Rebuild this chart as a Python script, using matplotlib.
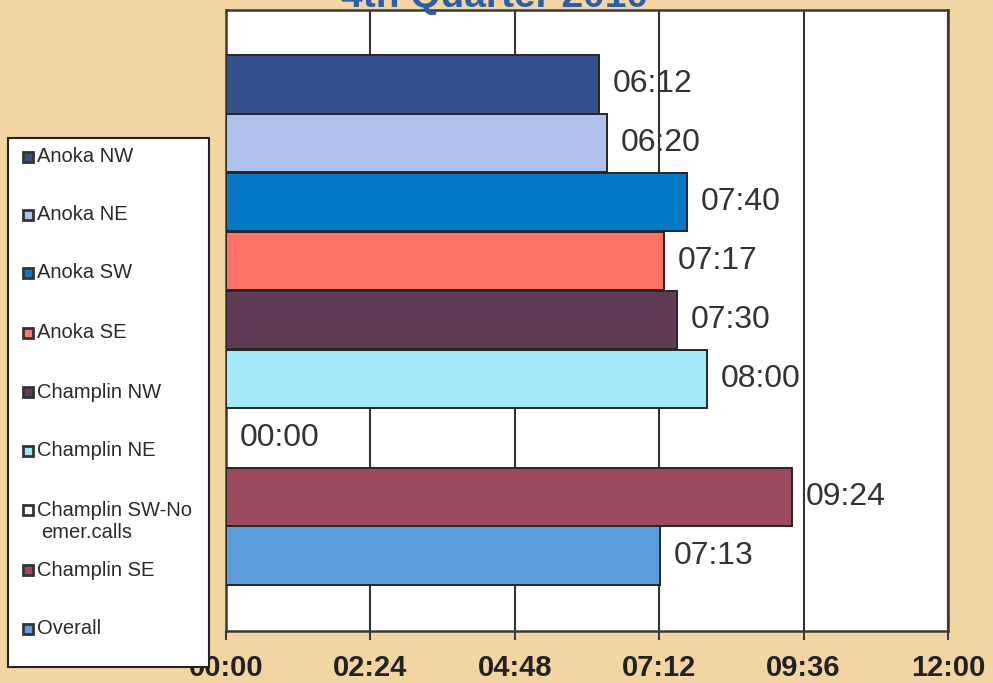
import matplotlib
matplotlib.use("Agg")
import matplotlib.pyplot as plt
from matplotlib.patches import Rectangle
from matplotlib.ticker import FuncFormatter, FixedLocator

plt.rcParams['font.family'] = ['Liberation Sans', 'DejaVu Sans']

# ---- data ----
categories = ["Anoka NW", "Anoka NE", "Anoka SW", "Anoka SE", "Champlin NW",
              "Champlin NE", "Champlin SW-No\nemer.calls", "Champlin SE", "Overall"]
seconds = [372, 380, 460, 437, 450, 480, 0, 564, 433]
colors = ["#33508F", "#AFC1EC", "#0578C6", "#FF7468", "#5E3C56",
          "#A2E9F9", "#FFFFFF", "#9C4A60", "#5C9DDC"]
tick_seconds = [0, 144, 288, 432, 576, 720]
title = "4th Quarter 2010"

values = [s / 60 for s in seconds]

def mmss(v, pos=None):
    s = int(round(v * 60))
    return f"{s // 60:02d}:{s % 60:02d}"

W, H = 993, 683
fig = plt.figure(figsize=(W / 100, H / 100), dpi=100)
fig.patch.set_facecolor("#F3D5A4")

ax = fig.add_axes([226 / W, 1 - 631 / H, (948 - 226) / W, 621 / H])
ax.set_facecolor("white")

ypos = list(range(len(values)))
for y, v, c in zip(ypos, values, colors):
    if v > 0:
        ax.barh(y, v, height=0.99, color=c, edgecolor="#262626", linewidth=1.4, zorder=3)
    ax.annotate(mmss(v), xy=(v, y), xytext=(10, 0), textcoords="offset points",
                va="center", ha="left", fontsize=23, color="#333333", zorder=5)

ax.set_xlim(0, 12)
ax.set_ylim(9.28, -1.264)
ax.xaxis.set_major_locator(FixedLocator([t / 60 for t in tick_seconds]))
ax.xaxis.set_major_formatter(FuncFormatter(mmss))
ax.set_yticks([])
ax.grid(axis="x", color="#333333", linewidth=1.5, zorder=1)
ax.set_axisbelow(True)
for sp in ax.spines.values():
    sp.set_color("#3a3a3a")
    sp.set_linewidth(1.8)
ax.tick_params(axis="x", direction="out", length=6.5, width=1.5, color="#3a3a3a",
               labelsize=21, labelcolor="#222222", pad=10)
for lab in ax.get_xticklabels():
    lab.set_fontweight("bold")

# title (mostly cut off at top as in the scan)
fig.text(495 / W, 1 - 7 / H, title, ha="center", va="baseline",
         fontsize=28, fontweight="bold", color="#2B5EAB")

# legend box (overlaps the first tick label, as in the reference)
box = Rectangle((8 / W, 1 - 667 / H), (209 - 8) / W, (667 - 138) / H,
                transform=fig.transFigure, facecolor="white", edgecolor="#222222",
                linewidth=1.5, zorder=10)
fig.add_artist(box)
entry_y = [157, 215, 273, 333, 392, 451, 510, 570, 629]
for yy, lab, c in zip(entry_y, categories, colors):
    sq = Rectangle((23 / W, 1 - (yy + 5) / H), 10 / W, 10 / H,
                   transform=fig.transFigure, facecolor=c, edgecolor="#333333",
                   linewidth=2.0, zorder=11)
    fig.add_artist(sq)
    lines = lab.split("\n")
    fig.text(37 / W, 1 - yy / H, lines[0], ha="left", va="center",
             fontsize=14.5, color="#2a2a2a", zorder=12)
    if len(lines) > 1:
        fig.text(41 / W, 1 - (yy + 23) / H, lines[1], ha="left", va="center",
                 fontsize=14.5, color="#2a2a2a", zorder=12)

fig.savefig("out.png", dpi=100, facecolor=fig.get_facecolor())
